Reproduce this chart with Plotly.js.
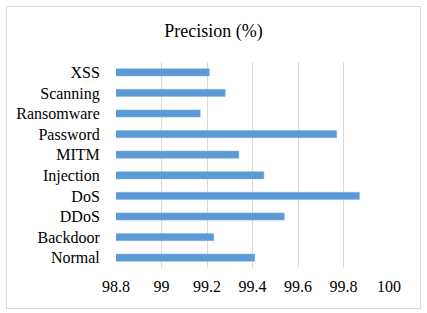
<!DOCTYPE html>
<html><head><meta charset="utf-8">
<script src="https://cdn.plot.ly/plotly-3.0.1.min.js"></script>
<style>
html,body{margin:0;padding:0;background:#fff;}
#wrap{position:relative;width:427px;height:313px;}
#chart{position:absolute;left:0;top:0;width:427px;height:313px;}
#frame{position:absolute;left:6px;top:6px;width:413px;height:301px;border:1px solid #d9d9d9;pointer-events:none;}
</style></head>
<body>
<div id="wrap"><div id="chart"></div><div id="frame"></div></div>
<script>
const categories = ["Normal","Backdoor","DDoS","DoS","Injection","MITM","Password","Ransomware","Scanning","XSS"];
const precision = [99.41, 99.23, 99.54, 99.87, 99.45, 99.34, 99.77, 99.17, 99.28, 99.21];
const xTicks = [98.8, 99, 99.2, 99.4, 99.6, 99.8, 100];
const xTickLabels = ["98.8","99","99.2","99.4","99.6","99.8","100"];

const font = "Liberation Serif";
Plotly.newPlot("chart", [{
  type: "bar",
  orientation: "h",
  y: categories,
  x: precision,
  marker: {color: "#5b9bd5", line: {color: "#7fb0e0", width: 0.5}},
  hoverinfo: "skip"
}], {
  width: 427, height: 313,
  margin: {l: 116, r: 38, t: 62, b: 45, pad: 0},
  paper_bgcolor: "#fff", plot_bgcolor: "#fff",
  showlegend: false,
  bargap: 0.65,
  font: {family: font, size: 16, color: "#000"},
  title: {text: "Precision (%)", font: {family: font, size: 18, color: "#000"},
          x: 0.5, xref: "container", y: 0.901, yref: "container", yanchor: "middle"},
  xaxis: {range: [98.8, 100], tickvals: xTicks, ticktext: xTickLabels,
          showgrid: true, gridcolor: "#d9d9d9", gridwidth: 1,
          zeroline: false, showline: false, ticks: "outside", ticklen: 4, tickcolor: "rgba(0,0,0,0)",
          fixedrange: true},
  yaxis: {showgrid: false, zeroline: false, showline: false, ticks: "outside", ticklen: 12,
          tickcolor: "rgba(0,0,0,0)", fixedrange: true}
}, {displayModeBar: false});
</script>
</body></html>
